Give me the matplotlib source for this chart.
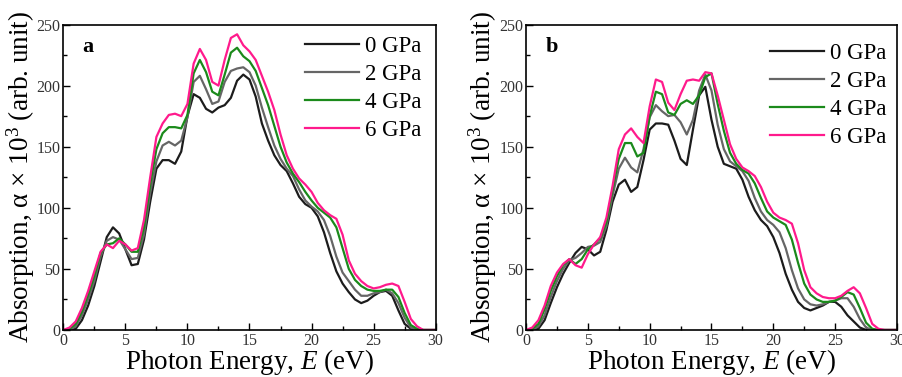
import numpy as np
import matplotlib
matplotlib.use("Agg")
import matplotlib.pyplot as plt
from matplotlib.ticker import MultipleLocator

plt.rcParams["font.family"] = ["Liberation Serif", "DejaVu Serif"]
plt.rcParams["mathtext.fontset"] = "custom"
plt.rcParams["mathtext.rm"] = "Liberation Serif"
plt.rcParams["mathtext.it"] = "Liberation Serif:italic"

# photon energy grid (eV), 0.5 eV steps
energy = np.arange(0, 30.01, 0.5)

labels = ["0 GPa", "2 GPa", "4 GPa", "6 GPa"]
colors = ["#1c1c1c", "#666666", "#1b8a1b", "#ff1a8c"]

# panel a
a_0gpa = [0, 0, 1, 8, 20, 36, 56, 76, 84, 79, 66, 53, 54, 74, 105, 132, 139, 139, 136, 146,
          175, 193, 190, 181, 178, 182, 184, 190, 204, 209, 205, 191, 169, 155, 143, 135, 130, 120, 109, 103,
          100, 93, 80, 63, 48, 38, 31, 25, 22, 24, 28, 31, 32, 28, 16, 5, 1, 0, 0, 0, 0]
a_2gpa = [0, 0, 3, 12, 25, 40, 60, 73, 76, 74, 66, 58, 59, 78, 112, 138, 151, 154, 151, 155,
          174, 203, 208, 197, 185, 187, 203, 212, 214, 215, 211, 200, 182, 166, 151, 140, 132, 126, 115, 106,
          101, 97, 90, 77, 60, 47, 40, 33, 28, 28, 30, 31, 33, 30, 22, 10, 2, 0, 0, 0, 0]
a_4gpa = [0, 1, 5, 15, 29, 44, 63, 70, 71, 75, 70, 64, 64, 84, 119, 148, 161, 166, 166, 165,
          176, 210, 221, 211, 195, 192, 209, 227, 231, 224, 220, 212, 198, 184, 167, 150, 137, 128, 121, 113,
          106, 100, 96, 92, 84, 67, 50, 41, 36, 33, 32, 32, 33, 33, 27, 14, 4, 1, 0, 0, 0]
a_6gpa = [0, 2, 7, 18, 32, 48, 64, 70, 67, 73, 70, 65, 67, 90, 125, 158, 169, 176, 177, 175,
          185, 218, 230, 221, 203, 200, 221, 239, 242, 233, 228, 221, 208, 195, 180, 160, 143, 132, 124, 119,
          113, 104, 98, 94, 91, 78, 57, 46, 40, 36, 34, 35, 37, 38, 36, 23, 9, 3, 0, 0, 0]

# panel b
b_0gpa = [0, 0, 1, 8, 22, 35, 46, 55, 63, 68, 66, 61, 64, 82, 105, 119, 123, 113, 117, 139,
          164, 169, 169, 168, 155, 140, 135, 164, 192, 199, 172, 150, 136, 134, 132, 123, 109, 98, 90, 85,
          76, 63, 46, 33, 23, 18, 16, 18, 20, 23, 23, 19, 12, 7, 2, 0, 0, 0, 0, 0, 0]
b_2gpa = [0, 0, 3, 12, 27, 40, 50, 57, 59, 63, 68, 69, 72, 85, 110, 132, 141, 133, 129, 148,
          174, 184, 179, 175, 176, 170, 160, 172, 196, 209, 196, 168, 148, 138, 134, 130, 122, 108, 97, 90,
          86, 80, 67, 49, 34, 25, 21, 20, 21, 23, 24, 26, 26, 19, 9, 2, 0, 0, 0, 0, 0]
b_4gpa = [0, 1, 5, 17, 32, 44, 53, 58, 54, 58, 66, 70, 75, 88, 115, 140, 153, 153, 142, 145,
          175, 195, 193, 178, 176, 185, 188, 185, 192, 207, 210, 185, 163, 145, 136, 131, 128, 120, 108, 97,
          92, 89, 86, 74, 55, 38, 29, 25, 23, 23, 24, 27, 31, 29, 18, 6, 1, 0, 0, 0, 0]
b_6gpa = [0, 2, 8, 20, 36, 47, 54, 58, 53, 51, 62, 70, 76, 92, 118, 148, 160, 165, 158, 153,
          183, 205, 203, 186, 180, 193, 204, 205, 204, 211, 210, 192, 172, 152, 140, 133, 130, 126, 117, 105,
          96, 92, 90, 87, 71, 49, 35, 30, 27, 26, 26, 28, 32, 35, 30, 18, 5, 1, 0, 0, 0]

fig = plt.figure(figsize=(9.02, 3.77), dpi=100)
ax_a = fig.add_axes([0.0702, 0.1247, 0.4128, 0.8103])
ax_b = fig.add_axes([0.5832, 0.1247, 0.4112, 0.8103])


def draw_panel(ax, curves, letter, leg_anchor):
    for y, c, lab in zip(curves, colors, labels):
        ax.plot(energy, y, color=c, lw=1.6, label=lab, solid_joinstyle="round")
    ax.set_xlim(0, 30)
    ax.set_ylim(0, 250)
    ax.xaxis.set_major_locator(MultipleLocator(5))
    ax.xaxis.set_minor_locator(MultipleLocator(2.5))
    ax.yaxis.set_major_locator(MultipleLocator(50))
    ax.yaxis.set_minor_locator(MultipleLocator(25))
    ax.tick_params(which="both", direction="in", top=False, right=False,
                   labelsize=11.5, labelcolor="#333333", width=1.0, pad=2)
    ax.tick_params(which="major", length=5)
    ax.tick_params(which="minor", length=3)
    for s in ax.spines.values():
        s.set_linewidth(1.2)
    ax.set_xlabel("Photon Energy, $E$ (eV)", fontsize=19.5, labelpad=-1)
    ax.set_ylabel(r"Absorption, α × 10$^3$ (arb. unit)", fontsize=19.5, labelpad=0)
    ax.text(0.052, 0.925, letter, transform=ax.transAxes, fontsize=16,
            fontweight="bold", ha="left", va="center")
    ax.legend(loc="upper right", bbox_to_anchor=leg_anchor, frameon=False,
              fontsize=16.5, handlelength=2.35, handletextpad=0.27,
              labelspacing=0.3, borderpad=0, borderaxespad=0)


draw_panel(ax_a, [a_0gpa, a_2gpa, a_4gpa, a_6gpa], "a", (0.963, 0.963))
draw_panel(ax_b, [b_0gpa, b_2gpa, b_4gpa, b_6gpa], "b", (0.973, 0.938))

fig.savefig("out.png", dpi=100)
